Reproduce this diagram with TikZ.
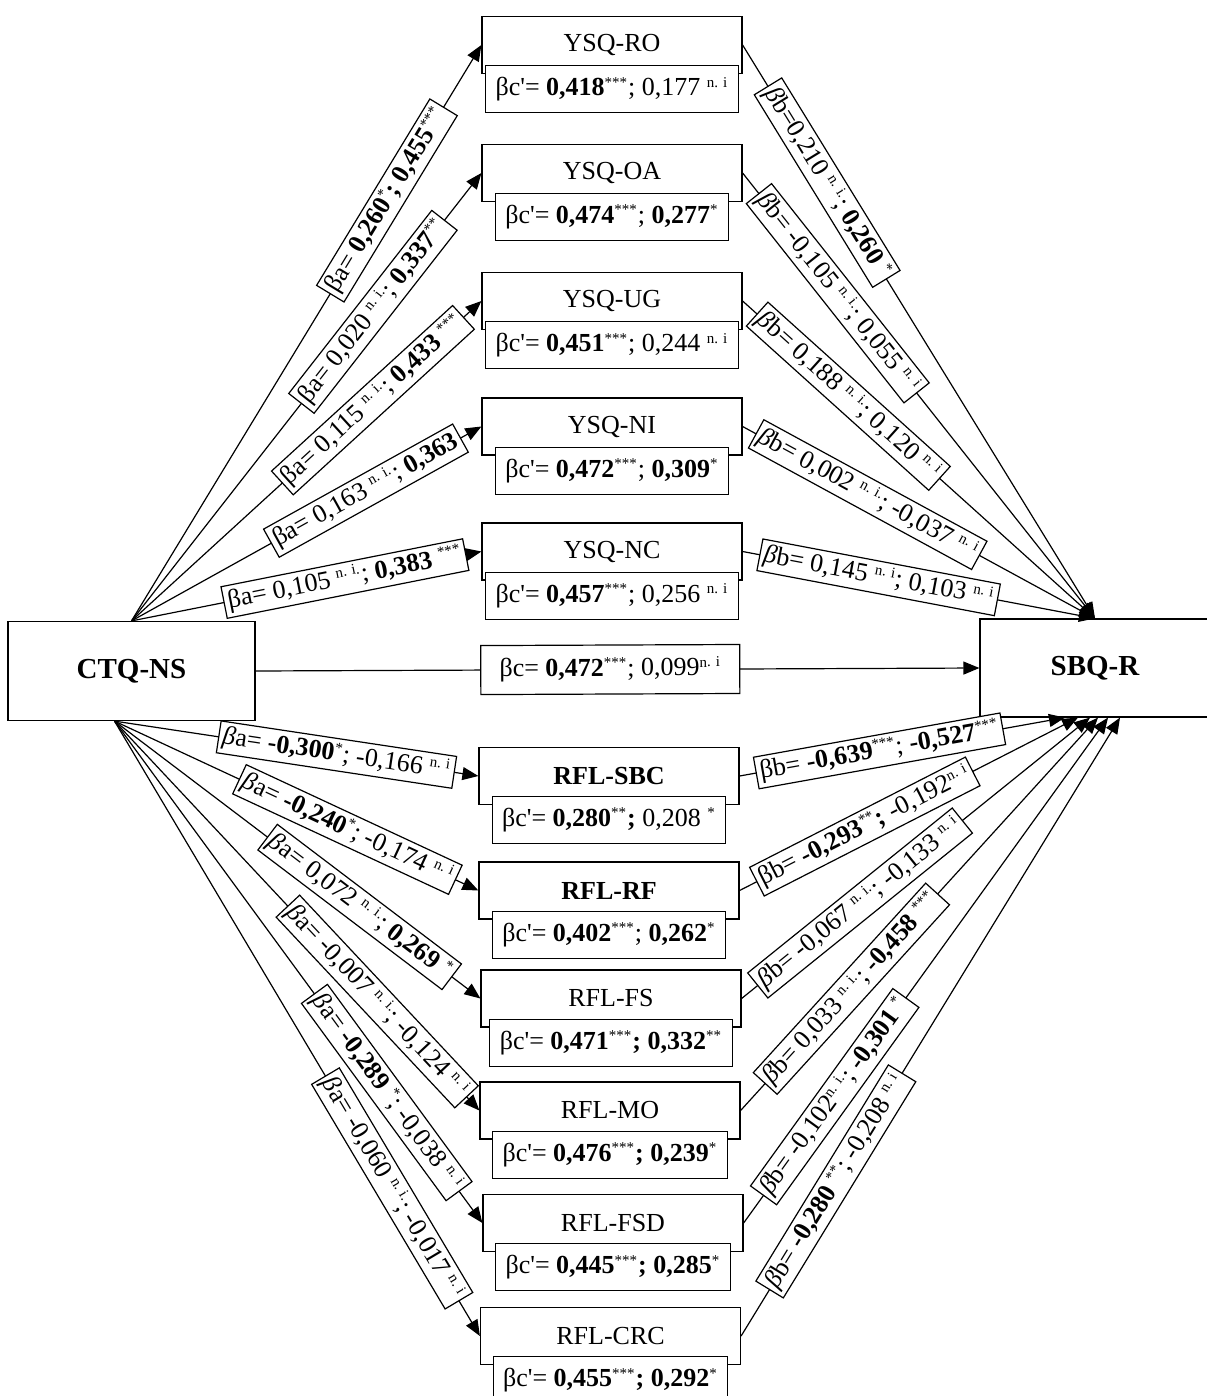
\documentclass[tikz,border=0pt]{standalone}
\usepackage{fontspec}
\setmainfont{Liberation Serif}
\usetikzlibrary{arrows.meta,positioning}
\newcommand{\sig}[1]{\textsuperscript{\fontsize{7.5}{8}\selectfont#1}}
\newcommand{\itb}{\textit{β}}
\newcommand{\prm}{\textquotesingle}

\begin{document}
\begin{tikzpicture}[x=0.5pt, y=-0.5pt, >={Triangle[length=8pt,width=6.5pt]},
  box/.style={draw, line width=0.6pt, minimum width=130pt, minimum height=28.5pt, inner sep=0pt, font=\fontsize{13}{15}\selectfont},
  sub/.style={draw, fill=white, line width=0.6pt, minimum height=23.5pt, inner xsep=5pt, font=\fontsize{13}{15}\selectfont},
  big/.style={draw, line width=0.6pt, font=\fontsize{14.5}{17}\selectfont\bfseries},
  lbl/.style={draw, fill=white, sloped, line width=0.6pt, inner sep=2pt, minimum height=15pt, font=\fontsize{13}{15}\selectfont},
  e/.style={->, line width=0.6pt}]
\useasboundingbox (0,0) rectangle (1206,1396);

% predictor and outcome
\node[big, minimum width=123.5pt, minimum height=49.5pt] (ctq) at (131.5,671) {CTQ-NS};
\node[big, minimum width=115pt, minimum height=49pt] (sbq) at (1095,668) {SBQ-R};

% YSQ mediators
\node[box] (ro) at (612,45) {YSQ-RO};
\node[sub, below=-4.5pt of ro] (roc) {βc\prm= \textbf{0,418}\sig{***}; 0,177 \sig{n. i}};
\node[box] (oa) at (612,173) {YSQ-OA};
\node[sub, below=-4.5pt of oa] (oac) {βc\prm= \textbf{0,474}\sig{***}; \textbf{0,277}\sig{*}};
\node[box] (ug) at (612,301) {YSQ-UG};
\node[sub, below=-4.5pt of ug] (ugc) {βc\prm= \textbf{0,451}\sig{***}; 0,244 \sig{n. i}};
\node[box] (ni) at (612,426.5) {YSQ-NI};
\node[sub, below=-4.5pt of ni] (nic) {βc\prm= \textbf{0,472}\sig{***}; \textbf{0,309}\sig{*}};
\node[box] (nc) at (612,551.5) {YSQ-NC};
\node[sub, below=-4.5pt of nc] (ncc) {βc\prm= \textbf{0,457}\sig{***}; 0,256 \sig{n. i}};

% RFL mediators
\node[box, font=\fontsize{13}{15}\selectfont\bfseries] (sbc) at (609,776) {RFL-SBC};
\node[sub, below=-4.5pt of sbc] (sbcc) {βc\prm= \textbf{0,280}\sig{**}\textbf{;} 0,208 \sig{*}};
\node[box, font=\fontsize{13}{15}\selectfont\bfseries] (rf) at (609,890.5) {RFL-RF};
\node[sub, below=-4.5pt of rf] (rfc) {βc\prm= \textbf{0,402}\sig{***}; \textbf{0,262}\sig{*}};
\node[box] (fs) at (611,998.5) {RFL-FS};
\node[sub, below=-4.5pt of fs] (fsc) {βc\prm= \textbf{0,471}\sig{***}\textbf{; 0,332}\sig{**}};
\node[box] (mo) at (610,1110.5) {RFL-MO};
\node[sub, below=-4.5pt of mo] (moc) {βc\prm= \textbf{0,476}\sig{***}\textbf{; 0,239}\sig{*}};
\node[box] (fsd) at (613,1223) {RFL-FSD};
\node[sub, below=-4.5pt of fsd] (fsdc) {βc\prm= \textbf{0,445}\sig{***}\textbf{; 0,285}\sig{*}};
\node[box] (crc) at (610.5,1336) {RFL-CRC};
\node[sub, below=-4.5pt of crc] (crcc) {βc\prm= \textbf{0,455}\sig{***}\textbf{; 0,292}\sig{*}};

% direct path
\draw[e] (ctq.east) -- node[lbl, pos=0.49, minimum width=129.5pt, minimum height=24.5pt] {βc= \textbf{0,472}\sig{***}; 0,099\sig{n. i}} (sbq.west);

% a paths, YSQ
\draw[e] (ctq.north) -- node[lbl, pos=0.73] {βa= \textbf{0,260}\sig{*}\textbf{; 0,455}\sig{***}} (ro.west);
\draw[e] (ctq.north) -- node[lbl, pos=0.69] {βa= 0,020 \sig{n. i.}; \textbf{0,337}\sig{**}} (oa.west);
\draw[e] (ctq.north) -- node[lbl, pos=0.69] {βa= 0,115 \sig{n. i.}; \textbf{0,433} \sig{***}} (ug.west);
\draw[e] (ctq.north) -- node[lbl, pos=0.67] {βa= 0,163 \sig{n. i.}; \textbf{0,363}} (ni.west);
\draw[e] (ctq.north) -- node[lbl, pos=0.61] {βa= 0,105 \sig{n. i.}; \textbf{0,383} \sig{***}} (nc.west);

% a paths, RFL
\draw[e] ([xshift=-8.5pt]ctq.south) -- node[lbl, pos=0.61] {\itb a= \textbf{-0,300}\sig{*}; -0,166 \sig{n. i}} (sbc.west);
\draw[e] ([xshift=-8.5pt]ctq.south) -- node[lbl, pos=0.64] {\itb a= \textbf{-0,240}\sig{*}; -0,174 \sig{n. i}} (rf.west);
\draw[e] ([xshift=-8.5pt]ctq.south) -- node[lbl, pos=0.67] {\itb a= 0,072 \sig{n. i.}; \textbf{0,269} \sig{*}} (fs.west);
\draw[e] ([xshift=-8.5pt]ctq.south) -- node[lbl, pos=0.72] {\itb a= -0,007 \sig{n. i.}; -0,124 \sig{n. i}} (mo.west);
\draw[e] ([xshift=-8.5pt]ctq.south) -- node[lbl, pos=0.74] {\itb a= \textbf{-0,289} \sig{*}; -0,038 \sig{n. i}} (fsd.west);
\draw[e] ([xshift=-8.5pt]ctq.south) -- node[lbl, pos=0.76] {\itb a= -0,060 \sig{n. i.}; -0,017 \sig{n. i}} (crc.west);

% b paths, YSQ
\draw[e] (ro.east) -- node[lbl, pos=0.24] {\itb b=0,210 \sig{n. i.}; \textbf{0,260} \sig{*}} (sbq.north);
\draw[e] (oa.east) -- node[lbl, pos=0.27] {\itb b= -0,105 \sig{n. i.}; 0,055 \sig{n. i}} (sbq.north);
\draw[e] (ug.east) -- node[lbl, pos=0.30] {\itb b= 0,188 \sig{n. i.}; 0,120 \sig{n. i}} (sbq.north);
\draw[e] (ni.east) -- node[lbl, pos=0.355] {\itb b= 0,002 \sig{n. i.}; -0,037 \sig{n. i}} (sbq.north);
\draw[e] (nc.east) -- node[lbl, pos=0.386] {\itb b= 0,145 \sig{n. i}; 0,103 \sig{n. i}} (sbq.north);

% b paths, RFL
\draw[e] (sbc.east) -- node[lbl, pos=0.43] {βb= \textbf{-0,639}\sig{***}; \textbf{-0,527}\sig{***}} ([xshift=-15pt]sbq.south);
\draw[e] (rf.east) -- node[lbl, pos=0.37] {βb= \textbf{-0,293}\sig{**}\textbf{;} -0,192\sig{n. i}} ([xshift=-8.5pt]sbq.south);
\draw[e] (fs.east) -- node[lbl, pos=0.34] {\itb b= -0,067 \sig{n. i.}; -0,133 \sig{n. i}} ([xshift=-2.5pt]sbq.south);
\draw[e] (mo.east) -- node[lbl, pos=0.31] {\itb b= 0,033 \sig{n. i.}; \textbf{-0,458} \sig{***}} ([xshift=1.5pt]sbq.south);
\draw[e] (fsd.east) -- node[lbl, pos=0.25] {\itb b= -0,102\sig{n. i.}; \textbf{-0,301} \sig{*}} ([xshift=6.5pt]sbq.south);
\draw[e] (crc.east) -- node[lbl, pos=0.25] {\itb b= \textbf{-0,280} \sig{**}; -0,208 \sig{n. i}} ([xshift=12.5pt]sbq.south);
\end{tikzpicture}
\end{document}
